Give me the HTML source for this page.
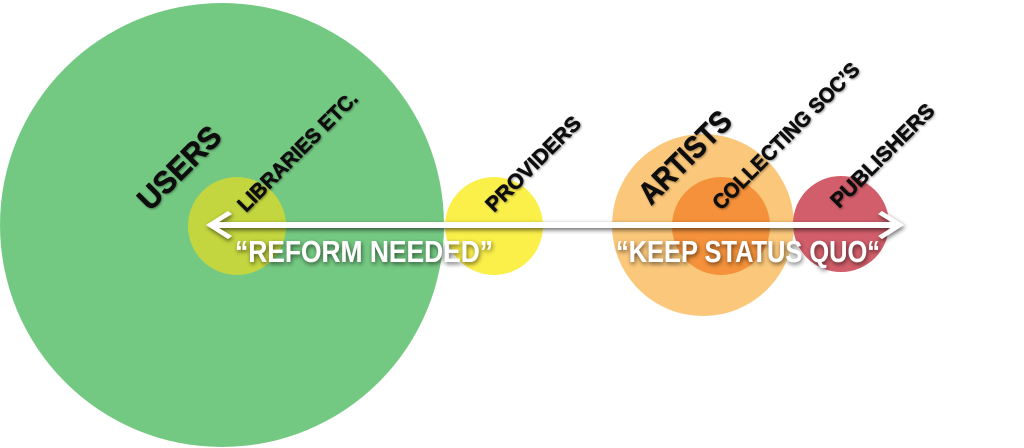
<!DOCTYPE html>
<html><head><meta charset="utf-8"><style>
html,body{margin:0;padding:0;background:#fff;width:1024px;height:448px;overflow:hidden}
svg{display:block}
.lbl{font-family:"Liberation Sans",sans-serif;font-weight:bold;fill:#111;stroke:#111;stroke-width:0.6}
.w{font-family:"Liberation Sans",sans-serif;font-weight:bold;fill:#fff}
</style></head><body>
<svg width="1024" height="448" viewBox="0 0 1024 448" xmlns="http://www.w3.org/2000/svg">
<defs>
<filter id="sh" x="-20%" y="-50%" width="140%" height="200%">
<feGaussianBlur in="SourceAlpha" stdDeviation="2.5"/>
<feOffset dx="1" dy="2" result="b"/>
<feComponentTransfer><feFuncA type="linear" slope="0.6"/></feComponentTransfer>
<feMerge><feMergeNode/><feMergeNode in="SourceGraphic"/></feMerge>
</filter>
<filter id="ts" x="-10%" y="-50%" width="120%" height="200%">
<feGaussianBlur in="SourceAlpha" stdDeviation="1"/>
<feOffset dx="1" dy="1"/>
<feComponentTransfer><feFuncA type="linear" slope="0.4"/></feComponentTransfer>
<feMerge><feMergeNode/><feMergeNode in="SourceGraphic"/></feMerge>
</filter>
</defs>
<circle cx="222" cy="225" r="222" fill="#74c982"/>
<circle cx="237" cy="226" r="49" fill="#c3d63f"/>
<circle cx="494" cy="226" r="49" fill="#fbef4a"/>
<circle cx="703" cy="225" r="91" fill="#fbc77a"/>
<circle cx="721" cy="226" r="49" fill="#f4913a"/>
<circle cx="841" cy="224" r="48" fill="#d15e6a"/>

<g filter="url(#ts)">
<text class="lbl" font-size="31" stroke-width="1" transform="translate(150,212) rotate(-45)" textLength="104" lengthAdjust="spacingAndGlyphs">USERS</text>
<text class="lbl" font-size="21" transform="translate(246,213) rotate(-45)" textLength="160" lengthAdjust="spacingAndGlyphs">LIBRARIES ETC.</text>
<text class="lbl" font-size="21" transform="translate(494,213) rotate(-45)" textLength="125" lengthAdjust="spacingAndGlyphs">PROVIDERS</text>
<text class="lbl" font-size="31" stroke-width="1" transform="translate(651,206) rotate(-45)" textLength="117" lengthAdjust="spacingAndGlyphs">ARTISTS</text>
<text class="lbl" font-size="21" transform="translate(721,211) rotate(-45)" textLength="198" lengthAdjust="spacingAndGlyphs">COLLECTING SOC’S</text>
<text class="lbl" font-size="21" transform="translate(839,209) rotate(-45)" textLength="137" lengthAdjust="spacingAndGlyphs">PUBLISHERS</text>
</g>

<g filter="url(#sh)">
<line x1="212" y1="225" x2="898" y2="225" stroke="#fff" stroke-width="6"/>
<polygon points="206,225 228,211 232,214 214,225 232,236 228,239" fill="#fff"/>
<polygon points="904,225 882,211 878,214 896,225 878,236 882,239" fill="#fff"/>
<text class="w" font-size="31" x="235" y="262" textLength="258" lengthAdjust="spacingAndGlyphs">“REFORM NEEDED”</text>
<text class="w" font-size="31" x="616" y="262" textLength="264" lengthAdjust="spacingAndGlyphs">“KEEP STATUS QUO“</text>
</g>
</svg>
</body></html>
